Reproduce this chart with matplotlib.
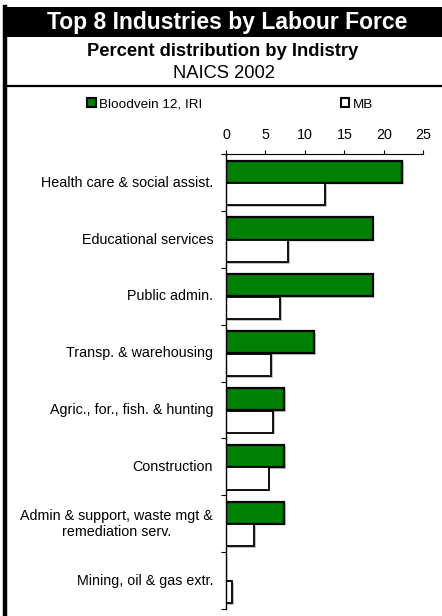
import numpy as np
import matplotlib
matplotlib.use("Agg")
import matplotlib.pyplot as plt
import matplotlib.patheffects as pe
from matplotlib.patches import Rectangle, Patch
from matplotlib.lines import Line2D

plt.rcParams['font.family'] = ['Liberation Sans', 'DejaVu Sans']

industries = [
    "Health care & social assist.",
    "Educational services",
    "Public admin.",
    "Transp. & warehousing",
    "Agric., for., fish. & hunting",
    "Construction",
    "Admin & support, waste mgt &\nremediation serv.",
    "Mining, oil & gas extr.",
]
bloodvein = [22.3, 18.6, 18.6, 11.2, 7.4, 7.4, 7.4, 0.0]
mb = [12.6, 7.9, 6.9, 5.7, 6.0, 5.4, 3.6, 0.8]
series_names = ["Bloodvein 12, IRI", "MB"]
x_ticks = [0, 5, 10, 15, 20, 25]

W, H = 442, 616
fig = plt.figure(figsize=(W / 100, H / 100), dpi=100)

# frame: black title bar, left rule, separator line
fig.patches.append(Rectangle((3 / W, 1 - 37 / H), 1, 30 / H, transform=fig.transFigure,
                             facecolor='black', edgecolor='none'))
fig.add_artist(Line2D([5 / W, 5 / W], [0, 1 - 7 / H], transform=fig.transFigure,
                      color='black', lw=3.2))
fig.add_artist(Line2D([5 / W, 1], [1 - 86 / H, 1 - 86 / H], transform=fig.transFigure,
                      color='black', lw=1.6))

fig.text(227 / W, 1 - 22 / H, "Top 8 Industries by Labour Force", color='white',
         fontsize=16.5, fontweight='bold', ha='center', va='center')
fig.text(223 / W, 1 - 51.5 / H, "Percent distribution by Indistry",
         fontsize=13.2, fontweight='bold', ha='center', va='center')
fig.text(224 / W, 1 - 73.5 / H, "NAICS 2002", fontsize=13.2, ha='center', va='center')

ax = fig.add_axes([226 / W, 1 - 609 / H, (423.3 - 226) / W, (609 - 154.3) / H])

n = len(industries)
pos = np.arange(n) + 0.5
bw = 0.39
shadow = [pe.SimplePatchShadow(offset=(1.2, -1.2), shadow_rgbFace='#888888', alpha=0.5),
          pe.Normal()]
g = ax.barh(pos - 0.195, bloodvein, height=bw, color='#008000', edgecolor='black',
            linewidth=1.6)
m = ax.barh(pos + 0.205, mb, height=bw, color='white', edgecolor='black', linewidth=1.3)
for b in list(g) + list(m):
    b.set_path_effects(shadow)

ax.set_xlim(0, 25)
ax.set_ylim(n, 0)
ax.xaxis.tick_top()
ax.set_xticks(x_ticks)
ax.set_xticklabels([str(t) for t in x_ticks])
ax.tick_params(axis='x', direction='out', length=3, width=0.8, labelsize=10.3, pad=6)
ax.set_yticks(np.arange(n + 1))
ax.set_yticklabels([])
ax.tick_params(axis='y', direction='out', length=3.5, width=0.8)
for lbl, p in zip(industries, pos):
    ax.text(-0.065, p, lbl, transform=ax.get_yaxis_transform(), ha='right', va='center',
            multialignment='center', fontsize=10.3)
ax.spines['right'].set_visible(False)
ax.spines['bottom'].set_visible(False)
ax.spines['top'].set_linewidth(0.8)
ax.spines['left'].set_linewidth(1.0)

handles = [Patch(facecolor='#008000', edgecolor='black', linewidth=1.5),
           Patch(facecolor='white', edgecolor='black', linewidth=1.5)]
fig.legend(handles, series_names, ncol=2, frameon=False, fontsize=9.7,
           loc='center left', bbox_to_anchor=(75 / W, 1 - 104.5 / H),
           handlelength=0.65, handleheight=0.65, handletextpad=0.25, columnspacing=10.25)

fig.savefig("out.png", dpi=100)
